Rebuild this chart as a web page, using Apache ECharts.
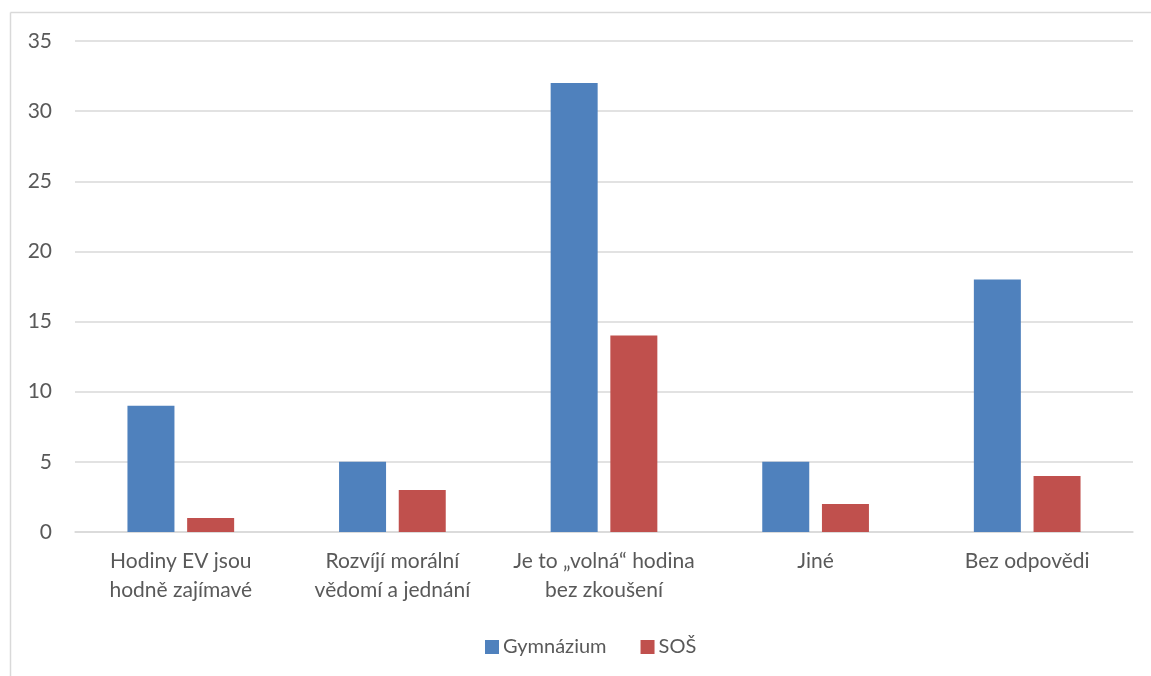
<!DOCTYPE html>
<html><head><meta charset="utf-8">
<script src="https://cdn.jsdelivr.net/npm/echarts@6/dist/echarts.min.js"></script>
<style>html,body{margin:0;padding:0;background:#fff}#c{width:1151px;height:676px}</style>
</head><body><div id="c"></div>
<script>
const categories = ["Hodiny EV jsou\nhodně zajímavé", "Rozvíjí morální\nvědomí a jednání", "Je to „volná“ hodina\nbez zkoušení", "Jiné", "Bez odpovědi"];
const gymnazium = [9, 5, 32, 5, 18];
const sos = [1, 3, 14, 2, 4];
const seriesNames = ["Gymnázium", "SOŠ"];

const chart = echarts.init(document.getElementById('c'), null, {renderer: 'canvas'});
const font = 'Lato, "Liberation Sans", sans-serif';
chart.setOption({
  animation: false,
  textStyle: {fontFamily: font},
  graphic: [
    {type: 'line', shape: {x1: 10.5, y1: 12.5, x2: 1151, y2: 12.5}, style: {stroke: '#d9d9d9', lineWidth: 1.5}},
    {type: 'line', shape: {x1: 10.5, y1: 12.5, x2: 10.5, y2: 676}, style: {stroke: '#d9d9d9', lineWidth: 1.5}}
  ],
  grid: {left: 75, right: 18, top: 41, bottom: 144, containLabel: false},
  legend: {
    bottom: 14, left: 480, itemWidth: 14, itemHeight: 14, itemGap: 34,
    icon: 'rect',
    textStyle: {fontSize: 20, color: '#595959', fontFamily: font, padding: [0, 0, 0, -1]},
    data: seriesNames
  },
  xAxis: {
    type: 'category', data: categories,
    axisLine: {lineStyle: {color: '#d9d9d9', width: 1.5}},
    axisTick: {show: false},
    axisLabel: {fontSize: 21, color: '#595959', lineHeight: 29, margin: 15, interval: 0, fontFamily: font}
  },
  yAxis: {
    type: 'value', min: 0, max: 35, interval: 5,
    axisLine: {show: false}, axisTick: {show: false},
    splitLine: {lineStyle: {color: '#d9d9d9', width: 1.5}},
    axisLabel: {fontSize: 21, color: '#595959', margin: 23, fontFamily: font}
  },
  series: [
    {name: seriesNames[0], type: 'bar', data: gymnazium, barWidth: 47, barGap: '27%', itemStyle: {color: '#4f81bd'}},
    {name: seriesNames[1], type: 'bar', data: sos, barWidth: 47, itemStyle: {color: '#c0504d'}}
  ]
});
</script></body></html>
